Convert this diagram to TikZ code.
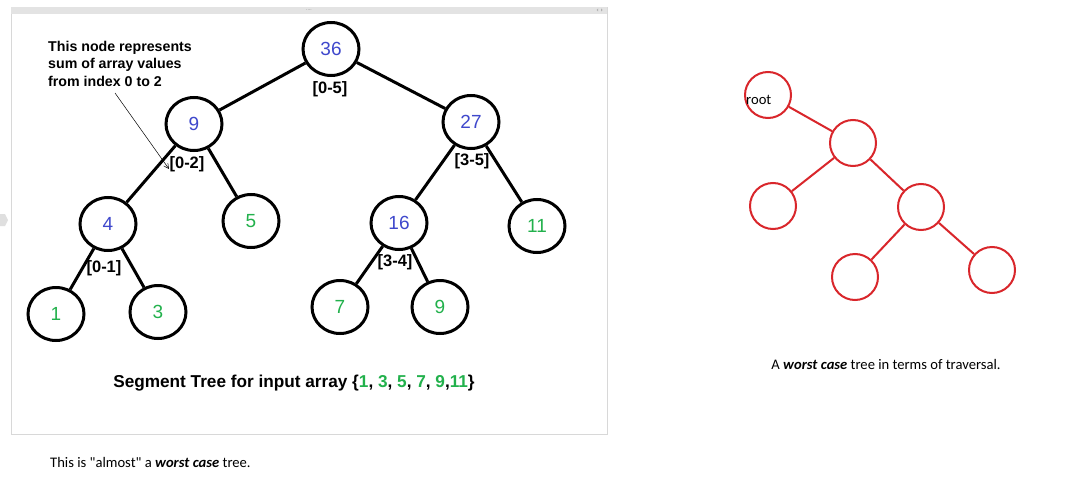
\documentclass[tikz,border=0pt]{standalone}
\usepackage{fontspec}
\setmainfont{Liberation Sans}
\newfontfamily\calibri{Carlito}
\usetikzlibrary{positioning,arrows.meta,shapes.geometric}
\definecolor{segblue}{HTML}{3F48CC}
\definecolor{seggreen}{HTML}{22B14C}
\definecolor{treered}{HTML}{D9262B}
\definecolor{framegray}{HTML}{D8D8D8}
\tikzset{
  segnode/.style ={draw, ellipse, line width=3pt, minimum width=56pt, minimum height=53pt, inner sep=0pt, font=\fontsize{19}{22}\selectfont},
  sumnode/.style ={segnode, text=segblue},
  leafnode/.style={segnode, text=seggreen},
  rng/.style     ={font=\bfseries\fontsize{16.5}{19}\selectfont, inner sep=0pt},
  segedge/.style ={line width=3pt},
  wnode/.style   ={draw=treered, circle, line width=2pt, minimum size=46pt, inner sep=0pt},
  wedge/.style   ={draw=treered, line width=2pt},
  remark/.style  ={font=\calibri\fontsize{14.6}{17}\selectfont, inner sep=0pt},
}
\begin{document}
\begin{tikzpicture}[x=1pt, y=-1pt]
  \useasboundingbox[fill=white] (0,0) rectangle (1070,484);

  % panel frame
  \draw[framegray, fill=white] (11,7) rectangle (607,434);
  \fill[gray!22] (11,7) rectangle (607,14);
  \node[font=\fontsize{5}{5}\selectfont, text=gray, inner sep=0pt] (dots) at (309,10) {....};
  \fill[gray!60] (598,8.5) -- (598,11.5) -- (596.5,10) -- cycle;
  \fill[gray!60] (601,8.5) -- (601,11.5) -- (602.5,10) -- cycle;
  \fill[gray!25] (0,214) -- (5,214) -- (8,220) -- (5,226) -- (0,226) -- cycle;

  % segment tree
  \node[sumnode]  (n36) at (331,49)  {36};
  \node[sumnode]  (n9)  at (194,124) {9};
  \node[sumnode]  (n27) at (471,122) {27};
  \node[sumnode]  (n4)  at (108,224) {4};
  \node[leafnode] (n5)  at (251,221) {5};
  \node[sumnode]  (n16) at (399,223) {16};
  \node[leafnode] (n11) at (537,226) {11};
  \node[leafnode] (n1)  at (56,314)  {1};
  \node[leafnode] (n3)  at (158,312) {3};
  \node[leafnode] (n7)  at (340,307) {7};
  \node[leafnode] (n9b) at (440,307) {9};

  \draw[segedge] (n36) -- (n9);  \draw[segedge] (n36) -- (n27);
  \draw[segedge] (n9) -- (n4);   \draw[segedge] (n9) -- (n5);
  \draw[segedge] (n27) -- (n16); \draw[segedge] (n27) -- (n11);
  \draw[segedge] (n4) -- (n1);   \draw[segedge] (n4) -- (n3);
  \draw[segedge] (n16) -- (n7);  \draw[segedge] (n16) -- (n9b);

  \node[rng] (r05) at (330,89)  {[0-5]};
  \node[rng] (r02) at (187,164) {[0-2]};
  \node[rng] (r35) at (472,161) {[3-5]};
  \node[rng] (r01) at (104,268) {[0-1]};
  \node[rng] (r34) at (395,262) {[3-4]};

  \node[font=\bfseries\fontsize{14.2}{17.5}\selectfont, align=left, anchor=north west, inner sep=0pt] (note) at (48,41)
    {This node represents\\sum of array values\\from index 0 to 2};
  \coordinate (notefoot) at (115,93);
  \coordinate (notehead) at (169,169);
  \draw[line width=0.5pt, -{Straight Barb[length=5pt, width=5pt]}] (notefoot) -- (notehead);

  \node[font=\bfseries\fontsize{17.2}{20}\selectfont, inner sep=0pt] (segcap) at (294,383)
    {Segment Tree for input array \{\textcolor{seggreen}{1}, \textcolor{seggreen}{3}, \textcolor{seggreen}{5}, \textcolor{seggreen}{7}, \textcolor{seggreen}{9},\textcolor{seggreen}{11}\}};

  \node[remark, anchor=west] (almost) at (50,462) {This is "almost" a \textbf{\textit{worst case}} tree.};

  % worst case tree
  \node[wnode] (w1) at (768,95)  {};
  \node[wnode] (w2) at (853,143) {};
  \node[wnode] (w3) at (773,206) {};
  \node[wnode] (w4) at (921,207) {};
  \node[wnode] (w5) at (855,277) {};
  \node[wnode] (w6) at (992,270) {};
  \draw[wedge] (w1) -- (w2);
  \draw[wedge] (w2) -- (w3); \draw[wedge] (w2) -- (w4);
  \draw[wedge] (w4) -- (w5); \draw[wedge] (w4) -- (w6);
  \node[remark, anchor=west] (rootlbl) at (746,100) {root};

  \node[remark] (worstcap) at (886,364) {A \textbf{\textit{worst case}} tree in terms of traversal.};
\end{tikzpicture}
\end{document}
